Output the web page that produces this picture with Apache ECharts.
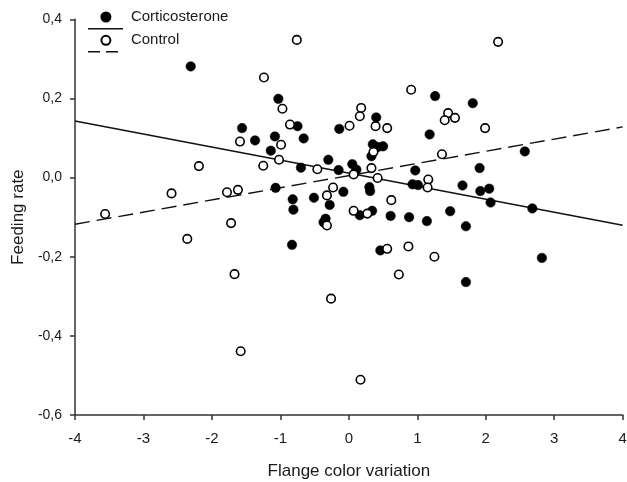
<!DOCTYPE html>
<html>
<head>
<meta charset="utf-8">
<script src="https://cdn.jsdelivr.net/npm/echarts@6/dist/echarts.min.js"></script>
<style>
html,body{margin:0;padding:0;background:#fff;}
#chart{width:627px;height:482px;}
</style>
</head>
<body>
<div id="chart"></div>
<script>
// Corticosterone (filled circles): [flange color variation, feeding rate]
const corticosterone = [
  [-2.31, 0.281], [-1.03, 0.199], [-0.75, 0.130], [-1.56, 0.125], [-1.37, 0.094],
  [-1.08, 0.104], [-0.66, 0.099], [-1.14, 0.068], [-0.70, 0.025], [-1.07, -0.026],
  [-0.82, -0.055], [-0.51, -0.051], [-0.81, -0.081], [-0.83, -0.170], [0.46, -0.184],
  [1.71, -0.264], [2.82, -0.203], [1.26, 0.206], [1.81, 0.188], [0.40, 0.152],
  [-0.14, 0.123], [1.18, 0.109], [0.35, 0.084], [0.50, 0.079], [0.42, 0.077],
  [0.33, 0.054], [2.57, 0.066], [-0.30, 0.045], [-0.15, 0.019], [0.05, 0.034],
  [0.11, 0.020], [0.97, 0.018], [1.91, 0.024], [0.93, -0.017], [1.01, -0.019],
  [1.66, -0.020], [1.92, -0.034], [2.05, -0.028], [0.30, -0.024], [0.31, -0.034],
  [-0.08, -0.036], [-0.28, -0.069], [2.07, -0.063], [2.68, -0.078], [0.16, -0.095],
  [0.34, -0.084], [0.61, -0.097], [0.88, -0.100], [1.14, -0.110], [1.48, -0.085],
  [1.71, -0.123], [-0.34, -0.104], [-0.37, -0.113]
];
// Control (open circles)
const control = [
  [-0.76, 0.348], [-1.24, 0.253], [-0.97, 0.174], [-0.86, 0.134], [-1.59, 0.091],
  [-0.99, 0.083], [-1.02, 0.045], [-1.25, 0.030], [-2.19, 0.029], [-0.46, 0.021],
  [-2.59, -0.040], [-1.78, -0.037], [-1.62, -0.031], [-3.56, -0.092], [-1.72, -0.115],
  [-2.36, -0.155], [-1.67, -0.244], [-1.58, -0.439], [0.56, -0.180], [0.87, -0.174],
  [1.25, -0.200], [0.73, -0.245], [-0.26, -0.306], [0.17, -0.511], [2.18, 0.343],
  [0.91, 0.222], [0.18, 0.176], [0.16, 0.155], [0.39, 0.130], [0.01, 0.131],
  [0.56, 0.125], [1.45, 0.163], [1.40, 0.145], [1.55, 0.151], [1.99, 0.125],
  [0.36, 0.065], [1.36, 0.059], [0.07, 0.008], [0.33, 0.024], [0.42, -0.001],
  [1.16, -0.005], [1.15, -0.025], [-0.23, -0.025], [-0.32, -0.045], [0.62, -0.057],
  [0.07, -0.084], [0.27, -0.091], [-0.32, -0.121]
];
// Regression lines (end points read at x = -4 and x = 4)
const fitX = [-4, 4];
const corticosteroneFitY = [0.143, -0.1205];
const controlFitY = [-0.118, 0.128];

const seriesNames = ['Corticosterone', 'Control'];
const xTitle = 'Flange color variation';
const yTitle = 'Feeding rate';

const FONT = '"Liberation Sans", Arial, sans-serif';
const TXT = '#1a1a1a';

const chart = echarts.init(document.getElementById('chart'), null, {renderer: 'canvas'});

const commaFmt = (v) => {
  if (Math.abs(v) < 1e-9) v = 0;
  return v.toFixed(1).replace('.', ',');
};

chart.setOption({
  animation: false,
  backgroundColor: '#fff',
  grid: {left: 75, right: 4.3, top: 19.3, bottom: 67, containLabel: false, outerBoundsMode: 'none'},
  legend: {
    data: seriesNames,
    orient: 'vertical',
    left: 100.4,
    top: 9.5,
    padding: 0,
    itemWidth: 40,
    itemHeight: 9,
    itemGap: 8.3,
    textStyle: {fontFamily: FONT, fontSize: 15, color: TXT},
    selectedMode: false
  },
  xAxis: {
    type: 'value',
    min: -4, max: 4, interval: 1,
    name: xTitle,
    nameLocation: 'middle',
    nameGap: 48,
    nameTextStyle: {fontFamily: FONT, fontSize: 17, color: TXT},
    axisLine: {show: true, onZero: false, lineStyle: {color: '#333', width: 1.5}},
    axisTick: {show: true, length: 5, lineStyle: {color: '#333', width: 1.5}},
    axisLabel: {margin: 16, fontFamily: FONT, fontSize: 15, color: TXT,
      formatter: (v) => String(v)},
    splitLine: {show: false}
  },
  yAxis: {
    type: 'value',
    min: -0.6, max: 0.4, interval: 0.2,
    name: yTitle,
    nameLocation: 'middle',
    nameGap: 48,
    nameRotate: 90,
    nameTextStyle: {fontFamily: FONT, fontSize: 17, color: TXT},
    axisLine: {show: true, onZero: false, lineStyle: {color: '#333', width: 1.5}},
    axisTick: {show: true, length: 5, lineStyle: {color: '#333', width: 1.5}},
    axisLabel: {margin: 13, fontFamily: FONT, fontSize: 14, color: TXT, formatter: commaFmt},
    splitLine: {show: false}
  },
  series: [
    {
      name: 'Corticosterone fit',
      type: 'line',
      data: fitX.map((x, i) => [x, corticosteroneFitY[i]]),
      showSymbol: false,
      lineStyle: {color: '#111', width: 1.4, type: 'solid'},
      silent: true, z: 1
    },
    {
      name: 'Control fit',
      type: 'line',
      data: fitX.map((x, i) => [x, controlFitY[i]]),
      showSymbol: false,
      lineStyle: {color: '#111', width: 1.4, type: [15, 7]},
      silent: true, z: 1
    },
    {
      name: seriesNames[0],
      type: 'scatter',
      data: corticosterone,
      symbol: 'circle',
      symbolSize: 9.5,
      itemStyle: {color: '#000', borderColor: '#000', borderWidth: 0.5, opacity: 1},
      z: 3
    },
    {
      name: seriesNames[1],
      type: 'scatter',
      data: control,
      symbol: 'circle',
      symbolSize: 8.5,
      itemStyle: {color: '#fff', borderColor: '#000', borderWidth: 1.6, opacity: 1},
      z: 4
    }
  ],
  graphic: [
    {type: 'line', shape: {x1: 88, y1: 28.7, x2: 123, y2: 28.7},
      style: {stroke: '#111', lineWidth: 1.4}},
    {type: 'line', shape: {x1: 88, y1: 51.7, x2: 123, y2: 51.7},
      style: {stroke: '#111', lineWidth: 1.4, lineDash: [12, 6]}}
  ]
});
</script>
</body>
</html>
